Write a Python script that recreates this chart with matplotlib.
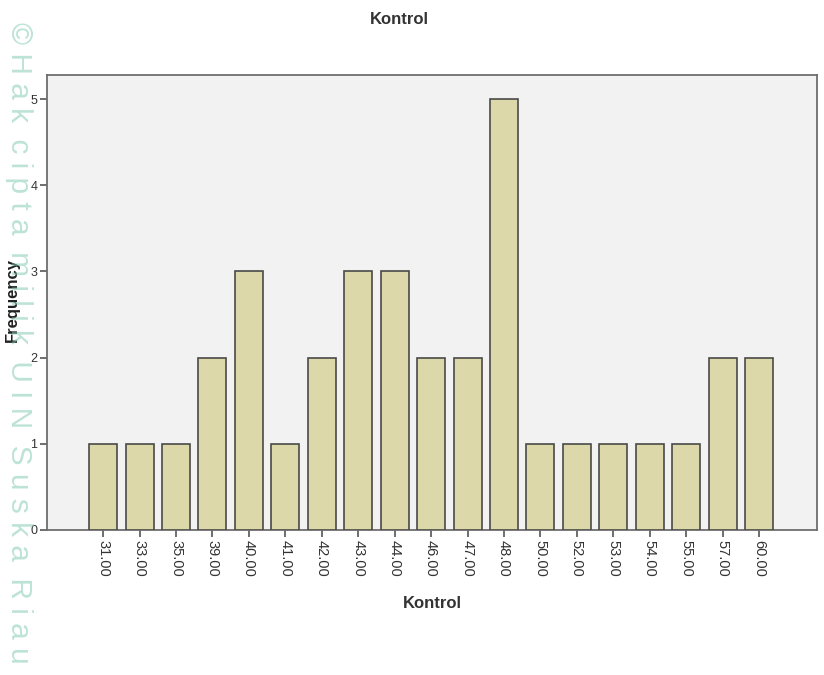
import matplotlib
matplotlib.use("Agg")
import matplotlib.pyplot as plt

plt.rcParams["font.family"] = ["Liberation Sans", "DejaVu Sans"]

categories = ["31.00", "33.00", "35.00", "39.00", "40.00", "41.00", "42.00", "43.00", "44.00",
              "46.00", "47.00", "48.00", "50.00", "52.00", "53.00", "54.00", "55.00", "57.00", "60.00"]
frequency = [1, 1, 1, 2, 3, 1, 2, 3, 3, 2, 2, 5, 1, 1, 1, 1, 1, 2, 2]
yticks = [0, 1, 2, 3, 4, 5]

fig = plt.figure(figsize=(8.24, 6.75), dpi=100)
fig.patch.set_facecolor("white")
W, H = 824, 675
ax = fig.add_axes([47 / W, 1 - 530 / H, (817 - 47) / W, (530 - 75) / H])
ax.set_facecolor("#f2f2f2")

x = list(range(len(categories)))
ax.bar(x, frequency, width=0.77, color="#dcd8a9", edgecolor="#4a4a48", linewidth=1.2, zorder=3)

ax.set_xlim(-1.54, len(categories) - 1 + 1.59)
ax.set_ylim(0, 5.28)
ax.set_yticks(yticks)
ax.set_yticklabels([str(v) for v in yticks], fontsize=9, color="#333333")
ax.set_xticks(x)
ax.set_xticklabels(categories, rotation=270, fontsize=10.5, color="#333333")
ax.tick_params(axis="both", direction="out", length=5, width=1.2, color="#555555", pad=2)

for s in ax.spines.values():
    s.set_color("#6e6e6e")
    s.set_linewidth(1.3)

fig.text(399 / W, 1 - 20 / H, "Kontrol", ha="center", va="center", fontsize=12,
         fontweight="bold", color="#333333")
fig.text(432 / W, 1 - 603 / H, "Kontrol", ha="center", va="center", fontsize=12,
         fontweight="bold", color="#333333")
fig.text(12 / W, 1 - 300 / H, "Frequency", ha="center", va="center", fontsize=12,
         fontweight="bold", rotation=90, color="#222222")

# watermark
fig.text(19 / W, 1 - 343 / H, "© H a k  c i p t a  m i l i k  U I N  S u s k a  R i a u",
         ha="center", va="center", rotation=270, fontsize=21.5, color="#7cc7b0", alpha=0.5)

fig.savefig("out.png", dpi=100)
